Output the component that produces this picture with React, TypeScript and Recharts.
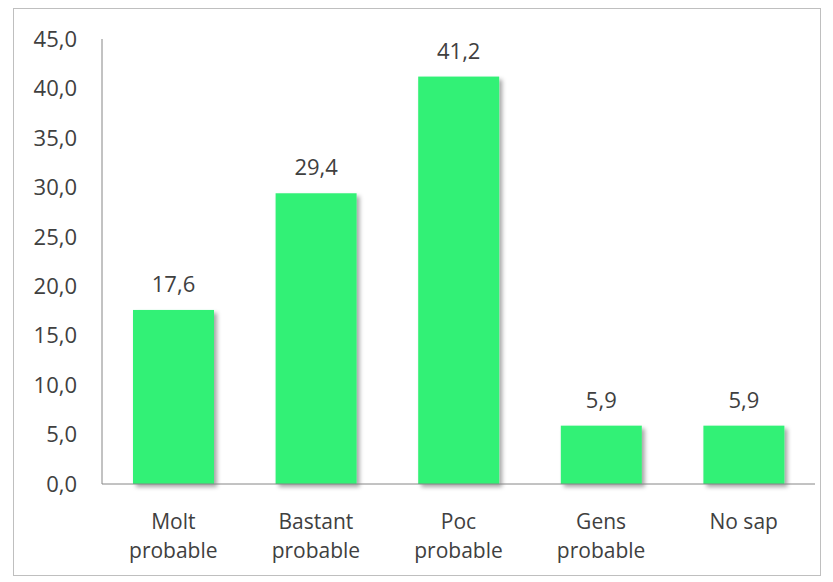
import React from "react";
import { BarChart, Bar, XAxis, YAxis, LabelList } from "recharts";

const categories = ["Molt probable", "Bastant probable", "Poc probable", "Gens probable", "No sap"];
const values = [17.6, 29.4, 41.2, 5.9, 5.9];
const yTicks = [0, 5, 10, 15, 20, 25, 30, 35, 40, 45];

const data = categories.map((c, i) => ({ name: c, value: values[i] }));

const FONT = "'Open Sans', sans-serif";
const TEXT = "#404040";
const FS = 21;
const NFS = 22;
const fmt = (v: number) => v.toFixed(1).replace(".", ",");

const XTick = (props: any) => {
  const { x, y, payload } = props;
  const label: string = payload.value;
  const idx = label.indexOf(" ");
  const lines = label === "No sap" || idx < 0 ? [label] : [label.slice(0, idx), label.slice(idx + 1)];
  return (
    <g>
      {lines.map((l, i) => (
        <text key={i} x={x} y={y + 43 + i * 29} textAnchor="middle" fill={TEXT} fontFamily={FONT} fontSize={FS}>
          {l}
        </text>
      ))}
    </g>
  );
};

const ShadowBar = (props: any) => {
  const { x, y, width, height, fill } = props;
  return <rect x={x} y={y} width={width} height={height} fill={fill} filter="url(#barShadow)" />;
};

export default function App() {
  return (
    <div style={{ position: "absolute", left: 0, top: 0, width: 833, height: 582, background: "#fff" }}>
      <svg width={0} height={0} style={{ position: "absolute" }}>
        <defs>
          <filter id="barShadow" x="-20%" y="-20%" width="150%" height="150%">
            <feDropShadow dx={3} dy={3} stdDeviation={2} floodColor="#000" floodOpacity={0.35} />
          </filter>
        </defs>
      </svg>
      <div
        style={{
          position: "absolute",
          left: 13,
          top: 8,
          width: 808,
          height: 568,
          border: "1px solid #bfbfbf",
          boxSizing: "border-box",
        }}
      />
      <div style={{ position: "absolute", left: 0, top: 0 }}>
        <BarChart width={833} height={582} data={data} margin={{ top: 39, right: 18, bottom: 0, left: 0 }} barSize={81}>
          <YAxis
            width={102}
            domain={[0, 45]}
            ticks={yTicks}
            tickFormatter={fmt}
            axisLine={{ stroke: "#868686" }}
            tickLine={false}
            tickSize={0}
            tickMargin={25}
            tick={{ fill: TEXT, fontFamily: FONT, fontSize: NFS }}
            interval={0}
          />
          <XAxis
            dataKey="name"
            height={98}
            axisLine={{ stroke: "#868686" }}
            tickLine={false}
            tickSize={0}
            tick={<XTick />}
            interval={0}
          />
          <Bar dataKey="value" fill="#33F176" isAnimationActive={false} shape={<ShadowBar />}>
            <LabelList dataKey="value" position="top" offset={18} formatter={(v: any) => fmt(Number(v))} fill={TEXT} fontFamily={FONT} fontSize={NFS} />
          </Bar>
        </BarChart>
      </div>
    </div>
  );
}
